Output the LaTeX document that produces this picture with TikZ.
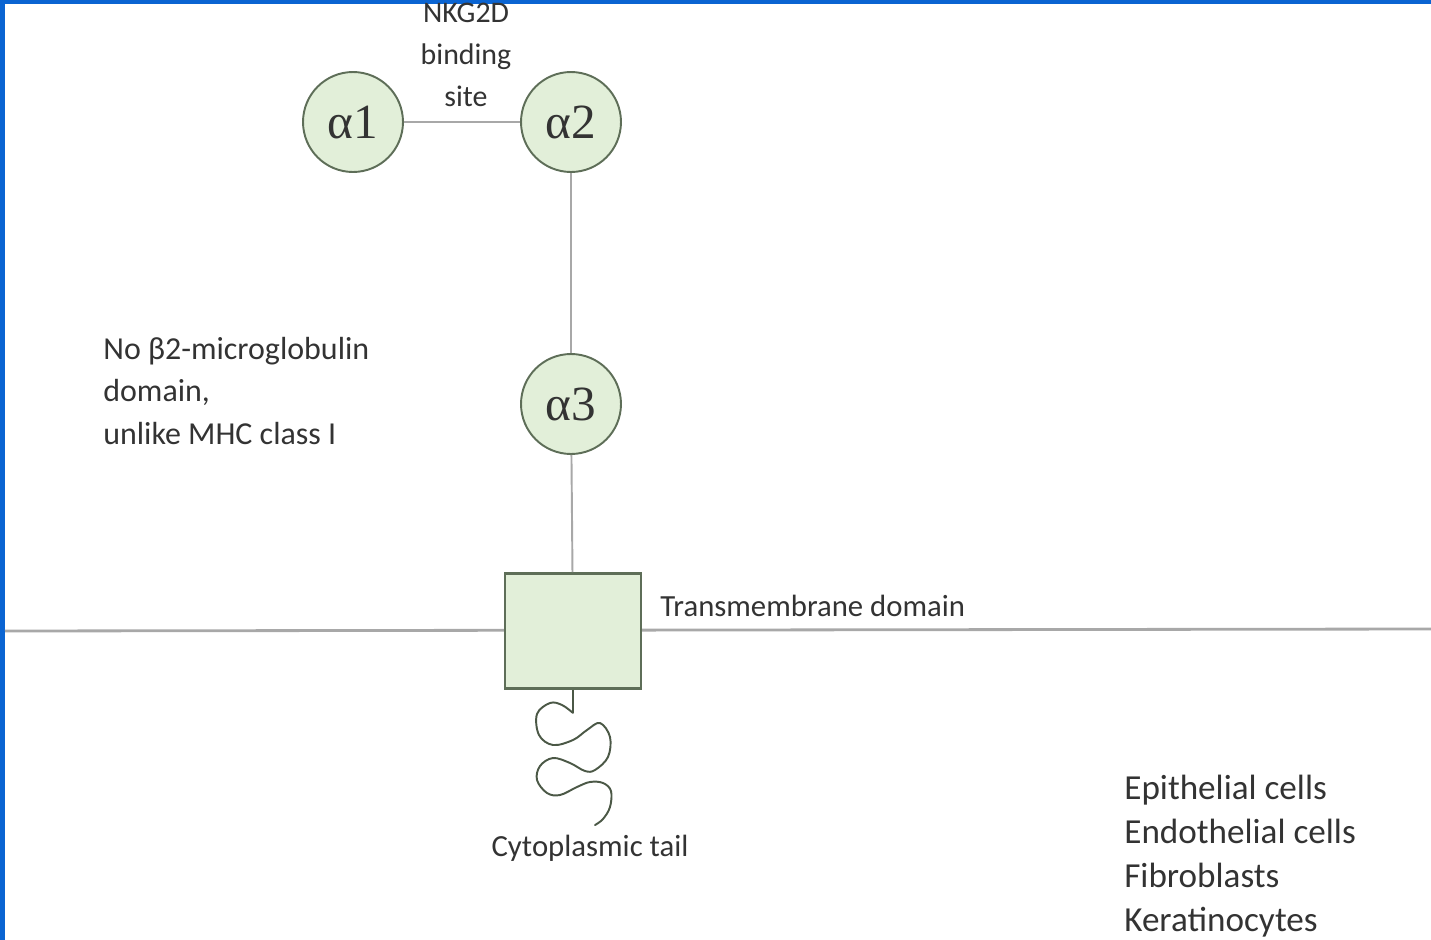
\documentclass[tikz,border=0pt]{standalone}
\usepackage{fontspec}
\setmainfont{Carlito}
\newfontfamily\greekfont{Liberation Serif}
\usetikzlibrary{positioning}

\definecolor{frameblue}{HTML}{0A64D2}
\definecolor{domfill}{HTML}{E2EFD9}
\definecolor{domline}{HTML}{5E6E58}
\definecolor{linkgray}{HTML}{A8A8A8}
\definecolor{txtgray}{HTML}{333333}

\begin{document}
\begin{tikzpicture}[
  x=0.02cm,y=-0.02cm,
  dom/.style={circle,draw=domline,fill=domfill,line width=1.1pt,minimum size=2cm,inner sep=0pt,
    font=\greekfont\fontsize{28}{30}\selectfont,text=black!80},
  tmbox/.style={rectangle,draw=domline,fill=domfill,line width=1.6pt,minimum width=2.72cm,minimum height=2.3cm,inner sep=0pt},
  link/.style={draw=linkgray,line width=1.1pt},
  lbl/.style={font=\fontsize{17.5}{24}\selectfont,text=txtgray,inner sep=0pt}
]
\useasboundingbox (0,0) rectangle (1431,940);

% frame
\fill[frameblue] (0,0) rectangle (1431,4);
\fill[frameblue] (0,0) rectangle (5,940);

% membrane
\coordinate (memL) at (5,631);
\coordinate (memR) at (1431,629);
\draw[linkgray,line width=1.6pt] (memL) -- (memR);

% domains
\node[dom] (a1) at (353,122) {α1};
\node[dom] (a2) at (571,122) {α2};
\node[dom] (a3) at (571,404) {α3};
\node[tmbox] (tm) at (573,631) {};

\draw[link] (a1) -- (a2);
\draw[link] (a2) -- (a3);
\draw[link] (a3) -- (tm);

% cytoplasmic tail
\coordinate (tailtop) at (573,713);
\draw[domline!80!black,line width=1.1pt] (tm.south) -- (tailtop);
\draw[domline!80!black,line width=1.1pt,line cap=round] plot[smooth,tension=0.6] coordinates {
  (573,713) (562,705) (550,703) (537,714) (539,735) (553,745) (573,740) (587,730)
  (600,723) (610,737) (608,757) (595,770) (585,771) (570,763) (553,758) (540,766)
  (537,780) (547,793) (560,795) (577,787) (590,782) (603,783) (611,791) (610,807)
  (603,819) (595,825)};

% labels
\node[lbl,align=center,font=\fontsize{17}{24}\selectfont] (site) at (466,55) {NKG2D\\binding\\site};
\node[lbl,align=left,anchor=west,font=\fontsize{18.2}{24}\selectfont] (nob2) at (103,391) {No β2-microglobulin\\domain,\\unlike MHC class I};
\node[lbl,anchor=west] (tmlbl) at (660,606) {Transmembrane domain};
\node[lbl] (tail) at (590,848) {Cytoplasmic tail};
\node[lbl,align=left,anchor=north west,font=\fontsize{20}{25}\selectfont] (cells) at (1124,775)
  {Epithelial cells\\Endothelial cells\\Fibroblasts\\Keratinocytes};
\end{tikzpicture}
\end{document}
